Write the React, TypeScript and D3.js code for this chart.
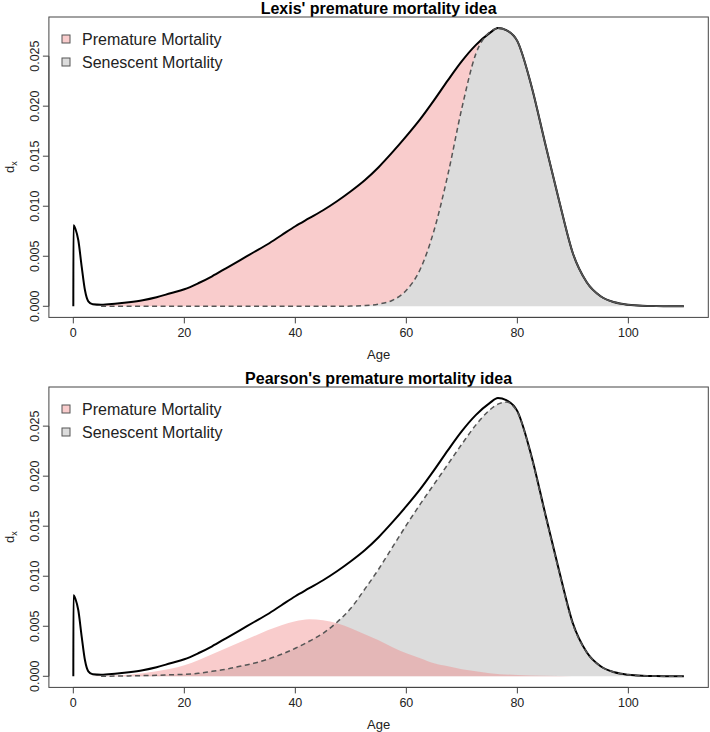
import * as d3 from 'd3';

// ---- data ----
const infantAges = [0, 0.02, 0.4, 0.9, 1.5, 2.1, 2.7, 3.5];
const infantDx = [0, 0.0081, 0.0077, 0.0066, 0.004, 0.0016, 0.0005, 0.0002];

const adultAges = [
  5, 7.5, 10, 12.5, 15, 17.5, 20, 22.5, 25, 27.5, 30, 32.5, 35, 37.5, 40, 42.5, 45, 47.5,
  50, 52.5, 55, 57.5, 60, 62.5, 65, 67.5, 70, 72.5, 75, 76.5, 78, 80, 82.5, 85, 87.5, 90,
  92.5, 95, 97.5, 100, 102.5, 105, 107.5, 110,
];
const totalDx = [
  0.00015, 0.00025, 0.0004, 0.0006, 0.0009, 0.0013, 0.0017, 0.0023, 0.003, 0.0038, 0.0046,
  0.0054, 0.0062, 0.0071, 0.008, 0.0088, 0.0096, 0.0105, 0.0115, 0.0126, 0.0139, 0.0154,
  0.017, 0.0187, 0.0206, 0.0226, 0.0245, 0.0261, 0.0273, 0.0278, 0.0276, 0.0265, 0.0221,
  0.0163, 0.0106, 0.0053, 0.0024, 0.001, 0.0004, 0.00015, 0.00005, 0.00002, 0.00001, 0,
];
const lexisSenescent = [
  0, 0, 0, 0, 0, 0, 0, 0, 0, 0, 0, 0, 0, 0, 0, 0, 0, 0, 0.00002, 0.00007, 0.00022, 0.0006,
  0.0016, 0.0037, 0.0076, 0.0132, 0.0198, 0.0252, 0.0274, 0.0278, 0.0276, 0.0265, 0.0221,
  0.0163, 0.0106, 0.0053, 0.0024, 0.001, 0.0004, 0.00015, 0.00005, 0.00002, 0.00001, 0,
];
const pearsonSenescent = [
  0, 0.00002, 0.00004, 0.00007, 0.0001, 0.00015, 0.0002, 0.0003, 0.0005, 0.0007, 0.001,
  0.0013, 0.0017, 0.0022, 0.0028, 0.0035, 0.0043, 0.0054, 0.0068, 0.0087, 0.0107, 0.0129,
  0.0151, 0.0172, 0.0192, 0.0212, 0.0232, 0.0251, 0.0266, 0.0272, 0.0274, 0.0264, 0.022,
  0.0162, 0.0105, 0.0052, 0.0024, 0.001, 0.0004, 0.00015, 0.00005, 0.00002, 0.00001, 0,
];
const prematureAges = [
  0, 5, 10, 15, 20, 22.5, 25, 27.5, 30, 32.5, 35, 37.5, 40, 42.5, 45, 47.5, 50, 52.5, 55,
  57.5, 60, 62.5, 65, 67.5, 70, 72.5, 75, 80, 85, 90,
];
const pearsonPremature = [
  0, 0.00003, 0.00015, 0.0005, 0.0011, 0.0016, 0.0022, 0.0028, 0.0034, 0.004, 0.0046,
  0.0051, 0.0055, 0.0057, 0.0056, 0.0053, 0.0048, 0.0042, 0.0036, 0.0029, 0.0023, 0.0018,
  0.0013, 0.001, 0.0007, 0.0005, 0.0003, 0.00013, 0.00005, 0,
];

const xTicks = [0, 20, 40, 60, 80, 100];
const yTicks = [0, 0.005, 0.01, 0.015, 0.02, 0.025];
const legendLabels = ['Premature Mortality', 'Senescent Mortality'];
const titles = ["Lexis' premature mortality idea", "Pearson's premature mortality idea"];

const W = 710;
const H = 732;
const PINK = 'rgba(240,128,128,0.4)';
const GREY = '#dcdcdc';
const FONT = 'Liberation Sans, Arial, Helvetica, sans-serif';

type Pt = [number, number];
const zip = (xs: number[], ys: number[]): Pt[] => xs.map((x, i) => [x, ys[i]]);

function Panel({ offset, mode }: { offset: number; mode: 'lexis' | 'pearson' }) {
  const left = 48.9;
  const right = 708.3;
  const top = 17 + offset;
  const bottom = 317.4 + offset;
  const x = d3.scaleLinear().domain([-4.4, 114.4]).range([left, right]);
  const y = d3.scaleLinear().domain([-0.00111, 0.02891]).range([bottom, top]);

  const line = d3.line<Pt>().x(d => x(d[0])).y(d => y(d[1])).curve(d3.curveMonotoneX);
  const areaZero = d3
    .area<Pt>()
    .x(d => x(d[0]))
    .y0(y(0))
    .y1(d => y(d[1]))
    .curve(d3.curveMonotoneX);

  const total = zip(infantAges, infantDx).concat(zip(adultAges, totalDx));
  const peakIdx = adultAges.indexOf(76.5);

  let marks;
  if (mode === 'lexis') {
    const sen = zip(adultAges, lexisSenescent);
    const band = adultAges.slice(0, peakIdx + 1).map((a, i) => ({ a, lo: lexisSenescent[i], hi: totalDx[i] }));
    const bandArea = d3
      .area<{ a: number; lo: number; hi: number }>()
      .x(d => x(d.a))
      .y0(d => y(d.lo))
      .y1(d => y(d.hi))
      .curve(d3.curveMonotoneX);
    marks = (
      <g>
        <path d={areaZero(sen) || ''} fill={GREY} />
        <path d={bandArea(band) || ''} fill={PINK} />
        <path d={line(total) || ''} fill="none" stroke="#000" strokeWidth={2} />
        <path d={line(sen.slice(peakIdx)) || ''} fill="none" stroke="#555" strokeWidth={1.6} />
        <path
          d={line(sen.slice(0, peakIdx + 1)) || ''}
          fill="none"
          stroke="#555"
          strokeWidth={1.5}
          strokeDasharray="5,3.5"
        />
      </g>
    );
  } else {
    const sen = zip(adultAges, pearsonSenescent);
    const prem = zip(prematureAges, pearsonPremature);
    marks = (
      <g>
        <path d={areaZero(sen) || ''} fill={GREY} />
        <path d={areaZero(prem) || ''} fill={PINK} />
        <path d={line(total) || ''} fill="none" stroke="#000" strokeWidth={2} />
        <path d={line(sen) || ''} fill="none" stroke="#555" strokeWidth={1.5} strokeDasharray="5,3.5" />
      </g>
    );
  }

  const axisColor = '#444';
  const textColor = '#222';

  return (
    <g fontFamily={FONT}>
      <text x={(left + right) / 2} y={offset + 13.5} textAnchor="middle" fontWeight="bold" fontSize={16} fill="#000">
        {titles[mode === 'lexis' ? 0 : 1]}
      </text>
      {marks}
      <rect x={left} y={top} width={right - left} height={bottom - top} fill="none" stroke={axisColor} strokeWidth={1} />
      {/* x axis */}
      <line x1={x(xTicks[0])} x2={x(xTicks[xTicks.length - 1])} y1={bottom} y2={bottom} stroke={axisColor} />
      {xTicks.map(t => (
        <g key={t}>
          <line x1={x(t)} x2={x(t)} y1={bottom} y2={bottom + 6} stroke={axisColor} />
          <text x={x(t)} y={bottom + 20} textAnchor="middle" fontSize={12.5} fill={textColor}>
            {t}
          </text>
        </g>
      ))}
      {/* y axis */}
      <line x1={left} x2={left} y1={y(yTicks[0])} y2={y(yTicks[yTicks.length - 1])} stroke={axisColor} />
      {yTicks.map(t => (
        <g key={t}>
          <line x1={left - 6} x2={left} y1={y(t)} y2={y(t)} stroke={axisColor} />
          <text
            transform={`translate(${left - 10},${y(t)}) rotate(-90)`}
            textAnchor="middle"
            fontSize={12.5}
            fill={textColor}
          >
            {t.toFixed(3)}
          </text>
        </g>
      ))}
      <text x={(left + right) / 2} y={offset + 359} textAnchor="middle" fontSize={13} fill={textColor}>
        Age
      </text>
      <text transform={`translate(${14},${(top + bottom) / 2}) rotate(-90)`} textAnchor="middle" fontSize={13} fill={textColor}>
        d<tspan fontSize={9} dy={3}>x</tspan>
      </text>
      {/* legend */}
      {legendLabels.map((lab, i) => (
        <g key={lab}>
          <rect
            x={62}
            y={offset + 35 + i * 23}
            width={8}
            height={8}
            fill={i === 0 ? PINK : GREY}
            stroke="#555"
            strokeWidth={1}
          />
          <text x={82} y={offset + 39 + i * 23} dy="0.36em" fontSize={16} fill={textColor}>
            {lab}
          </text>
        </g>
      ))}
    </g>
  );
}

export default function App() {
  return (
    <svg
      width={W}
      height={H}
      viewBox={`0 0 ${W} ${H}`}
      style={{ position: 'absolute', left: 0, top: 0, background: '#fff' }}
    >
      <rect width={W} height={H} fill="#fff" />
      <Panel offset={0} mode="lexis" />
      <Panel offset={370} mode="pearson" />
    </svg>
  );
}
